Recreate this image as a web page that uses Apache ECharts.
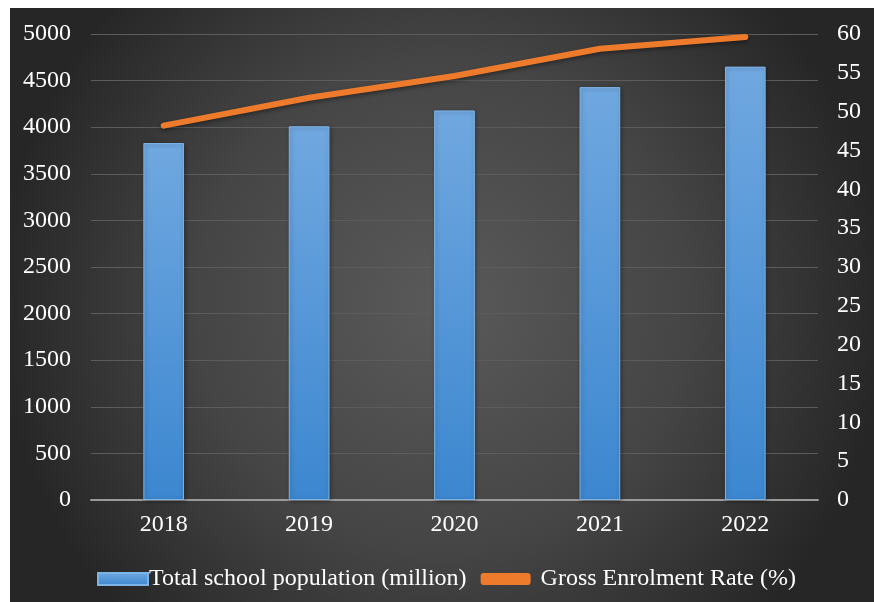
<!DOCTYPE html>
<html>
<head>
<meta charset="utf-8">
<script src="https://cdn.jsdelivr.net/npm/echarts@6/dist/echarts.min.js"></script>
<style>
html,body{margin:0;padding:0;background:#fff;}
#c{width:874px;height:602px;}
</style>
</head>
<body>
<div id="c"></div>
<script>
var categories = ['2018', '2019', '2020', '2021', '2022'];
var schoolPopulation = [3830, 4010, 4180, 4430, 4650];
var enrolmentRate = [48.2, 51.8, 54.6, 58.1, 59.6];
var leftTicks = [0, 500, 1000, 1500, 2000, 2500, 3000, 3500, 4000, 4500, 5000];
var rightTicks = [0, 5, 10, 15, 20, 25, 30, 35, 40, 45, 50, 55, 60];

var chart = echarts.init(document.getElementById('c'));
var font = 'Liberation Serif, Times New Roman, serif';
chart.setOption({
  backgroundColor: '#ffffff',
  animation: false,
  graphic: [{
    type: 'rect',
    z: -10,
    silent: true,
    shape: {x: 10, y: 8, width: 864, height: 594},
    style: {
      fill: {
        type: 'radial', x: 0.5, y: 0.5, r: 0.75,
        colorStops: [
          {offset: 0, color: '#5a5a5a'},
          {offset: 0.55, color: '#454545'},
          {offset: 1, color: '#262626'}
        ]
      }
    }
  }],
  grid: {left: 91, right: 56, top: 34, bottom: 102},
  legend: {
    top: 562,
    left: 92,
    itemGap: 14,
    itemWidth: 50,
    itemHeight: 12,
    textStyle: {color: '#ffffff', fontFamily: font, fontSize: 24},
    data: [
      {name: 'Total school population (million)', icon: 'rect', textStyle: {padding: [0, 0, 0, -4]}},
      {name: 'Gross Enrolment Rate (%)', icon: 'roundRect', textStyle: {padding: [0, 0, 0, 5]}}
    ]
  },
  xAxis: {
    type: 'category',
    data: categories,
    axisTick: {show: false},
    axisLine: {lineStyle: {color: '#9a9a9a', width: 2}},
    axisLabel: {color: '#ffffff', fontFamily: font, fontSize: 24, margin: 13}
  },
  yAxis: [{
    type: 'value',
    min: leftTicks[0],
    max: leftTicks[leftTicks.length - 1],
    interval: 500,
    axisLine: {show: false},
    axisTick: {show: false},
    splitLine: {lineStyle: {color: '#5c5c5c', width: 1}},
    axisLabel: {color: '#ffffff', fontFamily: font, fontSize: 24, margin: 20,
      formatter: function (v) { return String(v); }}
  }, {
    type: 'value',
    min: rightTicks[0],
    max: rightTicks[rightTicks.length - 1],
    interval: 5,
    axisLine: {show: false},
    axisTick: {show: false},
    splitLine: {show: false},
    axisLabel: {color: '#ffffff', fontFamily: font, fontSize: 24, margin: 19,
      formatter: function (v) { return String(v); }}
  }],
  series: [{
    name: 'Total school population (million)',
    type: 'bar',
    yAxisIndex: 0,
    data: schoolPopulation,
    barWidth: '28%',
    itemStyle: {
      color: {
        type: 'linear', x: 0, y: 0, x2: 0, y2: 1,
        colorStops: [
          {offset: 0, color: '#70a8e0'},
          {offset: 1, color: '#3c87d0'}
        ]
      },
      borderColor: '#7db4e6',
      borderWidth: 1,
      shadowColor: 'rgba(0,0,0,0.35)',
      shadowBlur: 4,
      shadowOffsetX: 1,
      shadowOffsetY: 1
    }
  }, {
    name: 'Gross Enrolment Rate (%)',
    type: 'line',
    yAxisIndex: 1,
    data: enrolmentRate,
    symbol: 'none',
    lineStyle: {
      color: '#ee7b2c',
      width: 6,
      cap: 'round',
      join: 'round',
      shadowColor: 'rgba(0,0,0,0.4)',
      shadowBlur: 4,
      shadowOffsetY: 2
    },
    itemStyle: {color: '#ee7b2c'}
  }]
});
</script>
</body>
</html>
